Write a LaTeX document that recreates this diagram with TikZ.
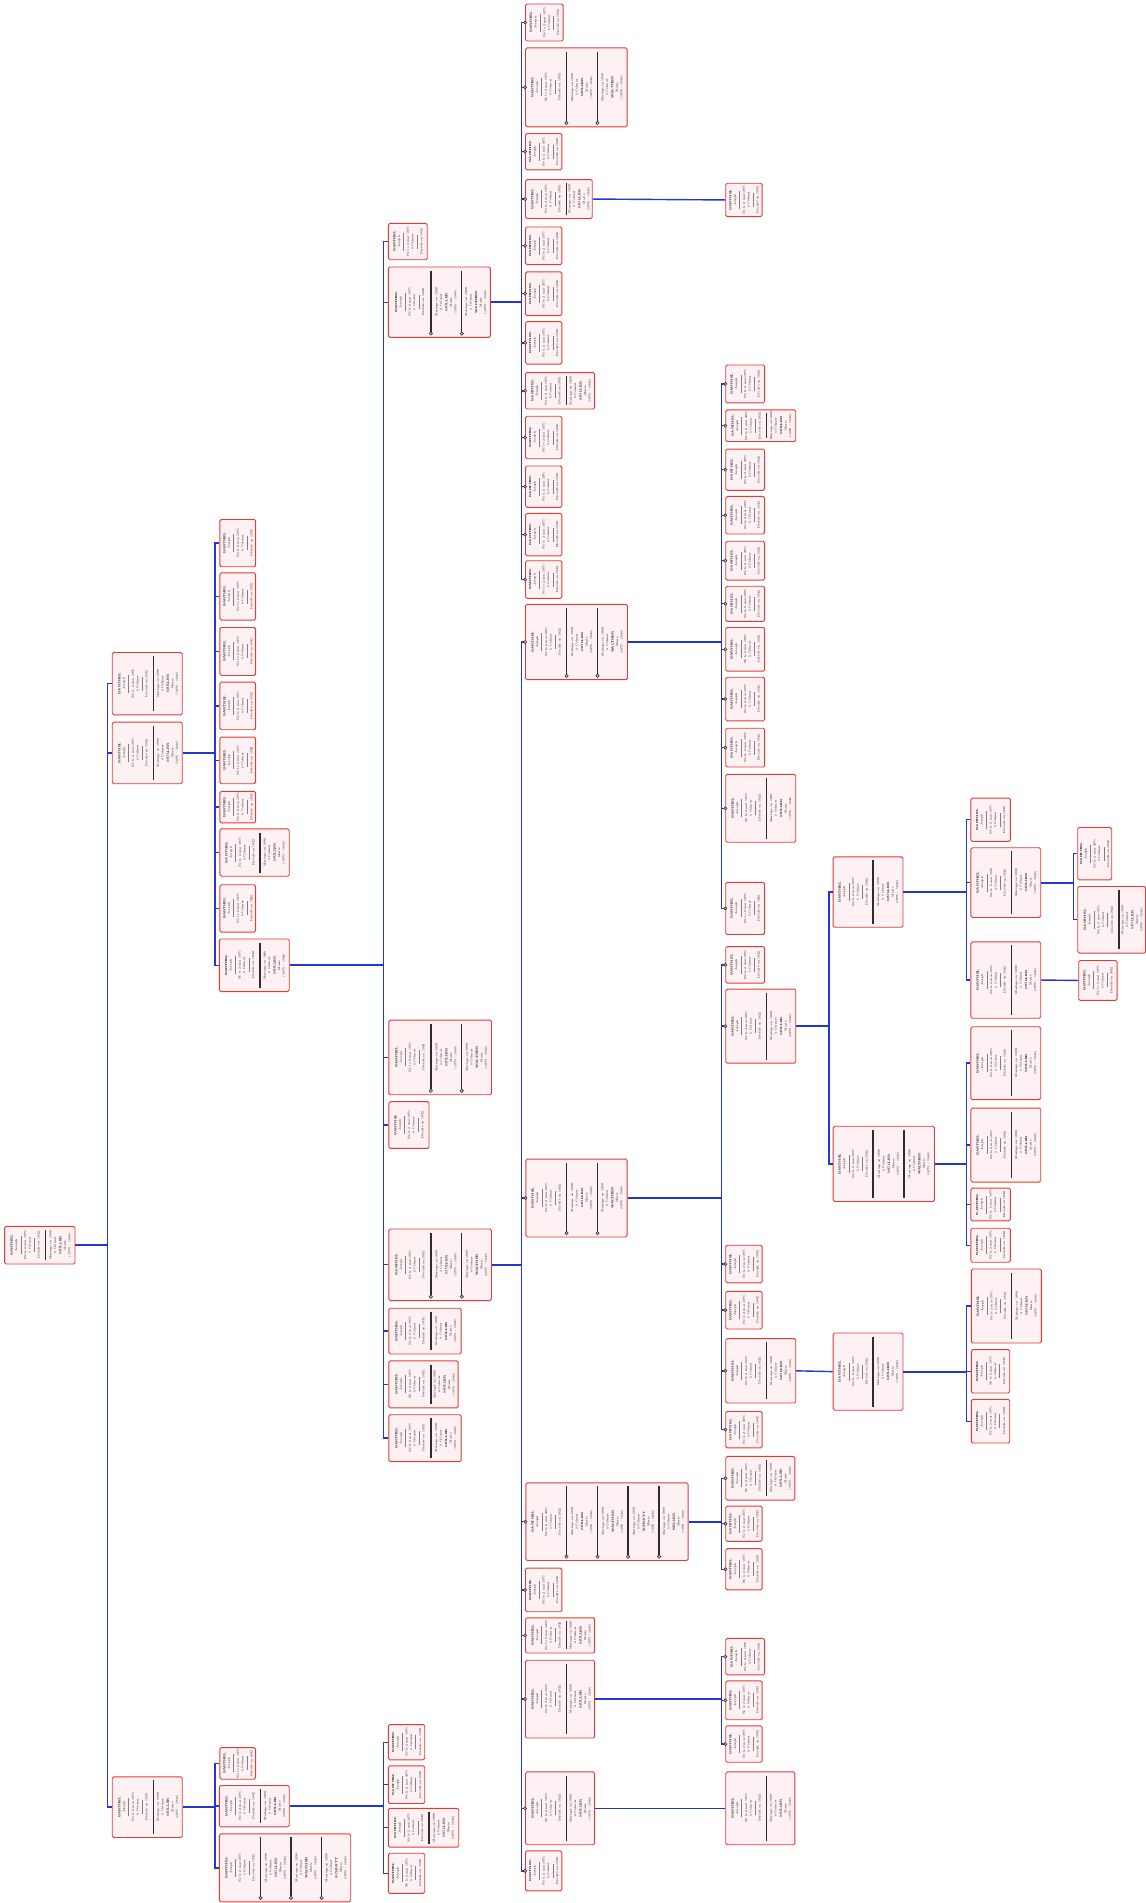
\documentclass[tikz,border=0pt]{standalone}
\usepackage{fontspec}
\usepackage{tikz}
\usetikzlibrary{fit,calc}

\definecolor{cardred}{RGB}{229,57,53}
\definecolor{cardfill}{RGB}{254,241,244}
\definecolor{linkblue}{RGB}{35,55,205}

\newcommand\partnername[1]{\ifcase#1\or\or MÜLLER\or WALTHER\or SCHMITT\or KELLER\fi}
\newcommand\perstext{\textbf{BARTHEL}\\ Joseph\\ \textcolor{gray}{\rule[0.8pt]{18pt}{0.3pt}}\\ Né le 2 mai 1871\\ à Colmar\\ \textcolor{gray}{\rule[0.8pt]{14pt}{0.3pt}}\\ Décédé en 1932}
\newcommand\parttext[1]{Mariage en 1898\\ à Colmar\\[1pt] \textbf{\partnername{#1}}\\ Marie\\ (1875 -- 1940)}

% one card: [ringed] name, x1, y1, x2, y2, separators (each followed by a comma)
\newcommand\pcard[7][]{%
  \node[famcard, fit={(#3,#4)(#5,#6)}] (#2) {};
  \foreach \s [count=\i, remember=\s as \p (initially #3)] in {#7#5} {
    \ifnum\i=1
      \node[famtext] (#2-\i) at ({(\p+\s)/2},{(#4+#6)/2}) {\perstext};
    \else
      \ifx\relax#1\relax
        \draw[sepline] (\p,#4+3) -- (\p,#6-3);
      \else
        \draw[sepline] (\p,#4+3) -- (\p,#6-4.5);
        \filldraw[ringdot] (\p,#6-3.2) circle[radius=1.7pt];
      \fi
      \node[famtext] (#2-\i) at ({(\p+\s)/2},{(#4+#6)/2}) {\parttext{\i}};
    \fi
  }%
}
% children of a card: [dots] parent, trunk x, children
\newcommand\kids[4][]{%
  \coordinate (#2-t) at (#3,0 |- #2.east);
  \draw[link, line width=2pt] (#2.east) -- (#2-t);
  \foreach \c in {#4} {
    \draw[link] (#2-t) |- (\c.west);
    \ifx\relax#1\relax\else \filldraw[ringdot] (\c.west) circle[radius=1.6pt];\fi
  }%
}

\begin{document}
\begin{tikzpicture}[
  x=1.214pt, y=-1.214pt,
  famcard/.style={draw=cardred, line width=0.9pt, rounded corners=1.5pt, fill=cardfill, inner sep=0pt},
  famtext/.style={rotate=90, font=\fontsize{2.9}{4.5}\selectfont, align=center, inner sep=0pt},
  sepline/.style={draw=gray!35!black, line width=1.4pt},
  link/.style={draw=linkblue, line width=1.4pt},
  ringdot/.style={fill=gray!50, draw=gray!30!black, line width=0.5pt}
]
\useasboundingbox (0,0) rectangle (944,1568);

\pcard{R}{3.8}{1010.5}{61.8}{1041.5}{37.6,}

\pcard{ga}{92.5}{537.6}{150.2}{589}{126.3,}
\pcard{gb}{92.5}{595}{150.2}{645.8}{126.3,}
\pcard{gc}{92.5}{1464}{150.2}{1514}{126.3,}

\pcard{b1}{181.2}{428}{210.6}{467}{}
\pcard{b2}{181.2}{472}{210.6}{511}{}
\pcard{b3}{181.2}{517}{210.6}{556.6}{}
\pcard{b4}{181.2}{562}{210.6}{601.3}{}
\pcard{b5}{181.2}{607.3}{210.6}{645.8}{}
\pcard{b6}{181.2}{652}{210.6}{678}{}
\pcard{b7}{181.2}{683}{238.3}{722}{214.2,}
\pcard{b8}{181.2}{729}{210.6}{768}{}
\pcard{b9}{180.7}{773.7}{238.3}{817}{214.2,}

\pcard{p1}{181.2}{1440}{210.6}{1466}{}
\pcard{p2}{180.7}{1471.2}{238.3}{1505.2}{214.7,}
\pcard[ringed]{p3}{180.7}{1511}{289}{1567}{214.7,239.7,265,}

\pcard{c1}{320}{184}{352}{214}{}
\pcard[ringed]{c2}{320}{220}{404}{278}{355,380.5,}
\pcard[ringed]{c3}{320.4}{840.5}{405}{902}{355,380.5,}
\pcard{c4}{320.4}{907.7}{353.5}{946.2}{}
\pcard[ringed]{c5}{320.4}{1012.6}{405}{1071.6}{355,380.5,}
\pcard{c6}{320.4}{1077.9}{380}{1115.6}{355,}
\pcard{c7}{320.4}{1121.3}{377.5}{1160}{355,}
\pcard{c8}{320.4}{1165.7}{380}{1204.3}{355,}

\pcard{q1}{320}{1421}{350}{1450}{}
\pcard{q2}{320}{1455}{350}{1486}{}
\pcard{q3}{320}{1490}{378}{1522}{353.4,}
\pcard{q4}{320}{1527}{350}{1560}{}

\pcard{u1}{433}{3.3}{464}{33.8}{}
\pcard[ringed]{u2}{433}{39.5}{516.7}{104.5}{466.7,492.3,}
\pcard{u3}{433}{110}{463}{140}{}
\pcard{u4}{433}{148}{488}{180}{466.7,}
\pcard{u5}{433}{187}{463}{218}{}
\pcard{u6}{433}{224}{463}{260}{}
\pcard{u7}{433}{265}{463}{300}{}
\pcard{u8}{433}{307}{490}{337}{466.7,}
\pcard{u9}{433}{343}{463}{378}{}
\pcard{u10}{433}{384}{463}{418}{}
\pcard{u11}{433}{423}{463}{458}{}
\pcard{u12}{433}{462}{463}{493}{}
\pcard{f1}{598}{151}{628}{178.5}{}

\pcard[ringed]{w1}{433}{498}{517}{560}{466.8,492.3,}
\pcard[ringed]{w2}{433.3}{955}{516.7}{1019.2}{466.8,492.3,}
\pcard[ringed]{w3}{433.3}{1221.8}{567}{1285.8}{466.8,492.3,517.6,543.1,}
\pcard{w4}{433}{1292}{463}{1328}{}
\pcard{w5}{433}{1333}{490}{1362}{466.8,}
\pcard{w6}{433}{1368}{490}{1432}{466.8,}
\pcard{w7}{433}{1460}{490}{1520}{466.8,}
\pcard{w8}{433}{1525}{463}{1558}{}
\pcard{h1}{598}{1460}{655}{1520}{631.5,}

\pcard{i1}{598}{300.7}{630}{332}{}
\pcard{i2}{598}{337.7}{655.7}{363.8}{631.5,}
\pcard{i3}{598}{370}{630}{404}{}
\pcard{i4}{598}{409}{630}{440}{}
\pcard{i5}{598}{446}{630}{478}{}
\pcard{i6}{598}{483}{630}{512}{}
\pcard{i7}{598}{517}{630}{553}{}
\pcard{i8}{598}{558}{630}{594}{}
\pcard{i9}{598}{600}{630}{632}{}
\pcard{i10}{598}{638}{655.7}{694}{631.5,}
\pcard{i11}{598}{727}{630}{770}{}

\pcard{j1}{598}{780}{630}{810}{}
\pcard{j2}{598}{815}{655.7}{876}{631.5,}
\pcard{j3}{598}{1026}{628}{1057}{}
\pcard{j4}{598}{1064}{628}{1095}{}
\pcard{j5}{598}{1103}{655.7}{1156}{631.5,}
\pcard{j6}{598}{1163}{628}{1193}{}

\pcard{n1}{598}{1200}{655}{1236}{631.5,}
\pcard{n2}{598}{1241}{628}{1270}{}
\pcard{n3}{598}{1276}{628}{1310}{}

\pcard{o1}{598}{1350}{630}{1380}{}
\pcard{o2}{598}{1385}{628}{1417}{}
\pcard{o3}{598}{1422}{628}{1452}{}

\pcard{k1}{686.5}{706}{744}{764}{719.4,}
\pcard{k2}{686.5}{928}{770}{990}{719.4,745,}
\pcard{ka}{686.5}{1098.3}{744}{1162}{719.4,}

\pcard{l1}{800}{657.6}{832.5}{693.3}{}
\pcard{l2}{800}{698.5}{857.5}{756}{833.3,}
\pcard{l3}{800}{776}{857.5}{839}{833.3,}
\pcard{l4}{800}{846}{857.5}{906}{833.3,}
\pcard{l5}{800}{913}{857.5}{974}{833.3,}
\pcard{l6}{800}{979}{832.5}{1006}{}
\pcard{l7}{800}{1012}{832.5}{1040}{}
\pcard{l8}{800.4}{1045.6}{858}{1106.6}{833.4,}
\pcard{l9}{800.4}{1112}{832}{1147.8}{}
\pcard{l10}{800.4}{1153}{832}{1189}{}

\pcard{m1}{888}{681.8}{916}{725}{}
\pcard{m2}{888}{730.4}{944}{785.3}{922,}
\pcard{m3}{888.8}{791.4}{920.4}{824.3}{}

\kids{R}{88.5}{ga,gb,gc}
\kids{gb}{177}{b1,b2,b3,b4,b5,b6,b7,b8,b9}
\kids{gc}{177}{p1,p2,p3}
\kids{b9}{315.8}{c1,c2,c3,c4,c5,c6,c7,c8}
\kids{p2}{315.8}{q1,q2,q3,q4}
\kids[dots]{c2}{429.7}{u1,u2,u3,u4,u5,u6,u7,u8,u9,u10,u11,u12}
\kids[dots]{c5}{429.7}{w1,w2,w3,w4,w5,w6,w7,w8}
\kids[dots]{w1}{594.5}{i1,i2,i3,i4,i5,i6,i7,i8,i9,i10,i11}
\kids[dots]{w2}{594.5}{j1,j2,j3,j4,j5,j6}
\kids[dots]{w3}{594.5}{n1,n2,n3}
\kids[dots]{w6}{594.5}{o1,o2,o3}
\kids{j2}{683}{k1,k2}
\kids{k1}{796.3}{l1,l2,l3}
\kids{k2}{796.3}{l4,l5,l6,l7}
\kids{ka}{796.3}{l8,l9,l10}
\kids{l2}{884.7}{m1,m2}
\draw[link] (u4.east) -- (f1.west);
\draw[link] (w7.east) -- (h1.west);
\draw[link] (j5.east) -- (ka.west);
\draw[link] (l3.east) -- (m3.west);
\end{tikzpicture}
\end{document}
